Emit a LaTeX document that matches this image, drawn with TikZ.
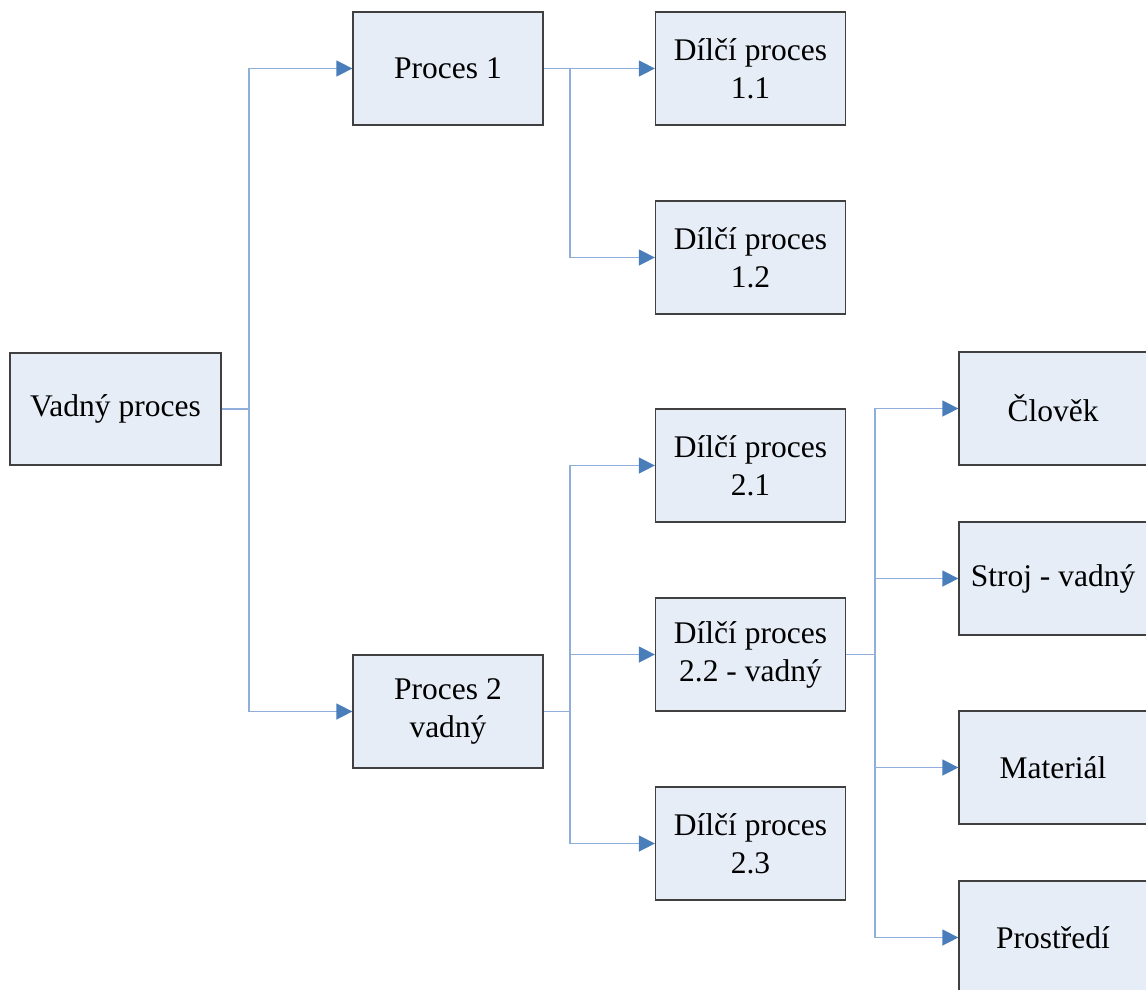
\documentclass[tikz,border=0pt]{standalone}
\usepackage{fontspec}
\setmainfont{Liberation Serif}
\usetikzlibrary{arrows.meta}
\definecolor{boxfill}{HTML}{E6EDF7}
\definecolor{boxline}{HTML}{404040}
\definecolor{connline}{HTML}{8FAEDA}
\definecolor{arrowblue}{HTML}{4A7EBB}
\tikzset{
  box/.style={draw=boxline, fill=boxfill, line width=1.3pt, minimum width=190pt, minimum height=113pt, inner sep=0pt, align=center, font=\fontsize{31.5}{38}\selectfont},
  conn/.style={draw=connline, line width=1.5pt, -{Triangle[length=16pt,width=16pt,color=arrowblue]}},
  trunk/.style={draw=connline, line width=1.5pt}
}
\begin{document}
\begin{tikzpicture}[x=1pt,y=-1pt]
\useasboundingbox (0,0) rectangle (1146,989);
\node[box, minimum width=211pt, minimum height=112pt] (vp) at (115.5,409) {Vadný proces};
\node[box] (p1) at (448,68.5) {Proces 1};
\node[box] (p2) at (448,711.5) {Proces 2\\vadný};
\node[box] (d11) at (750.5,68.5) {Dílčí proces\\1.1};
\node[box] (d12) at (750.5,257.5) {Dílčí proces\\1.2};
\node[box] (d21) at (750.5,465.5) {Dílčí proces\\2.1};
\node[box] (d22) at (750.5,654.5) {Dílčí proces\\2.2 - vadný};
\node[box] (d23) at (750.5,843.5) {Dílčí proces\\2.3};
\node[box, minimum width=188pt] (c1) at (1053,408.5) {Člověk};
\node[box, minimum width=188pt] (c2) at (1053,578.5) {Stroj - vadný};
\node[box, minimum width=188pt] (c3) at (1053,767.5) {Materiál};
\node[box, minimum width=188pt] (c4) at (1053,937.5) {Prostředí};
\coordinate (t0) at (249,409);
\coordinate (t1) at (570,68.5);
\coordinate (t2) at (570,711.5);
\coordinate (t3) at (875,654.5);
\draw[trunk] (vp.east) -- (t0);
\draw[conn] (t0) |- (p1.west);
\draw[conn] (t0) |- (p2.west);
\draw[trunk] (p1.east) -- (t1);
\draw[conn] (t1) -- (d11.west);
\draw[conn] (t1) |- (d12.west);
\draw[trunk] (p2.east) -- (t2);
\draw[conn] (t2) |- (d21.west);
\draw[conn] (t2) |- (d22.west);
\draw[conn] (t2) |- (d23.west);
\draw[trunk] (d22.east) -- (t3);
\draw[conn] (t3) |- (c1.west);
\draw[conn] (t3) |- (c2.west);
\draw[conn] (t3) |- (c3.west);
\draw[conn] (t3) |- (c4.west);
\end{tikzpicture}
\end{document}
